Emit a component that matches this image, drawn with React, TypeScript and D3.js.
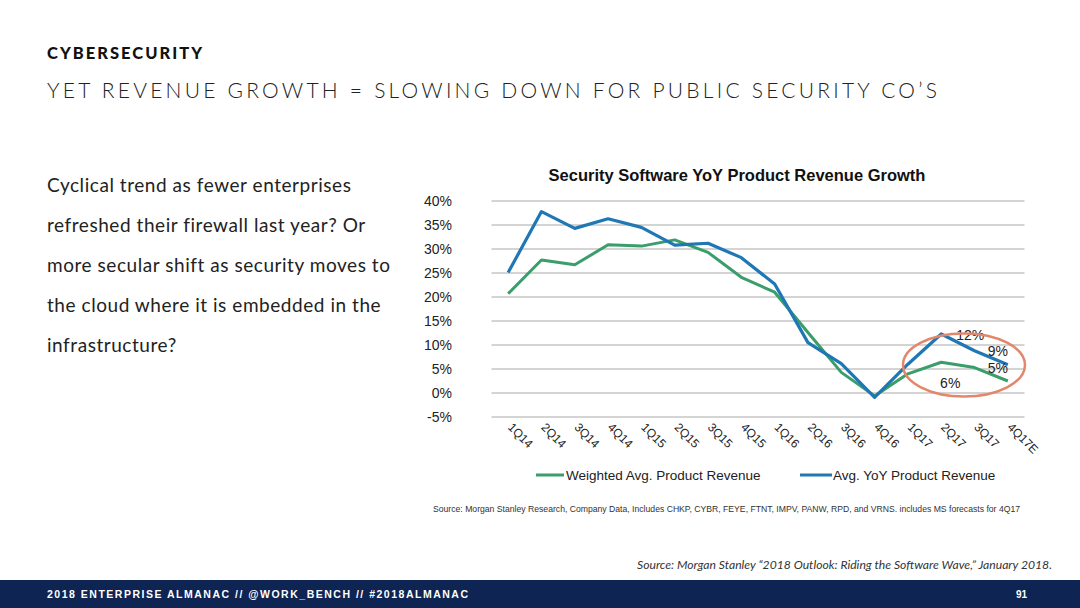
import React from "react";
import * as d3 from "d3";

const categories = ["1Q14","2Q14","3Q14","4Q14","1Q15","2Q15","3Q15","4Q15","1Q16","2Q16","3Q16","4Q16","1Q17","2Q17","3Q17","4Q17E"];
const weightedAvg = [20.7,27.7,26.7,30.9,30.6,31.9,29.3,24.1,21.0,12.6,4.3,-0.6,4.0,6.4,5.3,2.5];
const avgYoY = [25.1,37.8,34.3,36.3,34.5,30.8,31.2,28.2,22.7,10.5,6.1,-0.9,6.0,12.3,8.8,5.9];
const yTicks = [-5,0,5,10,15,20,25,30,35,40];
const bodyLines = [
  "Cyclical trend as fewer enterprises",
  "refreshed their firewall last year? Or",
  "more secular shift as security moves to",
  "the cloud where it is embedded in the",
  "infrastructure?",
];
const annotations = [
  { text: "12%", cat: "2Q17", dx: 29, value: 12.3, dy: 1 },
  { text: "9%", cat: "4Q17E", dx: -10, value: 8.8, dy: 0 },
  { text: "5%", cat: "4Q17E", dx: -10, value: 5.3, dy: 0 },
  { text: "6%", cat: "2Q17", dx: 9, value: 2.1, dy: 0 },
];

const BLUE = "#1f77b4";
const GREEN = "#3a9d6a";
const AX = "Liberation Sans, Arial, sans-serif";
const LATO = "Lato, 'Open Sans', sans-serif";

export default function App() {
  const x = d3.scaleBand().domain(categories).range([491.5, 1024.5]);
  const y = d3.scaleLinear().domain([-5, 40]).range([417, 201]);
  const cx = (c: string) => (x(c) as number) + x.bandwidth() / 2;
  const line = d3.line<number>().x((_, i) => cx(categories[i])).y((d) => y(d));

  return (
    <svg width={1080} height={608} style={{ position: "fixed", left: 0, top: 0, background: "#fff" }}>
      <rect width={1080} height={608} fill="#fff" />
      <text x={47} y={59} fontFamily={LATO} fontWeight={900} fontSize={16.5} textLength={155} lengthAdjust="spacing" fill="#111">CYBERSECURITY</text>
      <text x={47} y={98} fontFamily={LATO} fontWeight={300} fontSize={21} textLength={890} lengthAdjust="spacing" fill="#222">YET REVENUE GROWTH = SLOWING DOWN FOR PUBLIC SECURITY CO’S</text>
      {bodyLines.map((t, i) => (
        <text key={i} x={47} y={192 + i * 40} fontFamily={LATO} fontSize={19} letterSpacing={0.55} fill="#222">{t}</text>
      ))}

      <text x={737} y={181} textAnchor="middle" fontFamily={AX} fontWeight={700} fontSize={16.5} fill="#111">Security Software YoY Product Revenue Growth</text>
      {yTicks.map((t) => (
        <g key={t}>
          <line x1={491.5} x2={1024.5} y1={y(t)} y2={y(t)} stroke="#c6c6c6" strokeWidth={1.5} />
          <text x={452} y={y(t) + 5} textAnchor="end" fontFamily={AX} fontSize={14} fill="#222">{t}%</text>
        </g>
      ))}
      {categories.map((c) => (
        <text key={c} x={0} y={0} transform={`translate(${cx(c) - 1},${428}) rotate(45)`} fontFamily={AX} fontSize={12} fill="#222">{c}</text>
      ))}
      <path d={line(weightedAvg) || ""} fill="none" stroke={GREEN} strokeWidth={3} strokeLinejoin="round" />
      <path d={line(avgYoY) || ""} fill="none" stroke={BLUE} strokeWidth={3.2} strokeLinejoin="round" />
      {annotations.map((a, i) => (
        <text key={i} x={cx(a.cat) + a.dx} y={y(a.value) + 5 + a.dy} textAnchor="middle" fontFamily={AX} fontSize={14} fill="#222">{a.text}</text>
      ))}
      <ellipse cx={964} cy={365} rx={61} ry={31.5} fill="none" stroke="#e2876c" strokeWidth={2.5} />

      <line x1={536} x2={564} y1={475} y2={475} stroke={GREEN} strokeWidth={3} />
      <text x={566} y={480} fontFamily={AX} fontSize={13.5} fill="#222">Weighted Avg. Product Revenue</text>
      <line x1={800} x2={832} y1={475} y2={475} stroke={BLUE} strokeWidth={3} />
      <text x={833} y={480} fontFamily={AX} fontSize={13.5} fill="#222">Avg. YoY Product Revenue</text>

      <text x={433} y={512} fontFamily={AX} fontSize={9} textLength={587} lengthAdjust="spacingAndGlyphs" fill="#333">Source: Morgan Stanley Research, Company Data, Includes CHKP, CYBR, FEYE, FTNT, IMPV, PANW, RPD, and VRNS. includes MS forecasts for 4Q17</text>

      <text x={1052} y={569} textAnchor="end" fontFamily={LATO} fontStyle="italic" fontSize={12} textLength={415} lengthAdjust="spacingAndGlyphs" fill="#333">Source: Morgan Stanley “2018 Outlook: Riding the Software Wave,” January 2018.</text>
      <rect x={0} y={580} width={1080} height={28} fill="#0e2452" />
      <text x={47} y={598} fontFamily={AX} fontWeight={700} fontSize={10.5} textLength={421} lengthAdjust="spacing" fill="#fff">2018 ENTERPRISE ALMANAC // @WORK_BENCH // #2018ALMANAC</text>
      <text x={1027} y={598} textAnchor="end" fontFamily={AX} fontWeight={700} fontSize={10} fill="#fff">91</text>
    </svg>
  );
}
